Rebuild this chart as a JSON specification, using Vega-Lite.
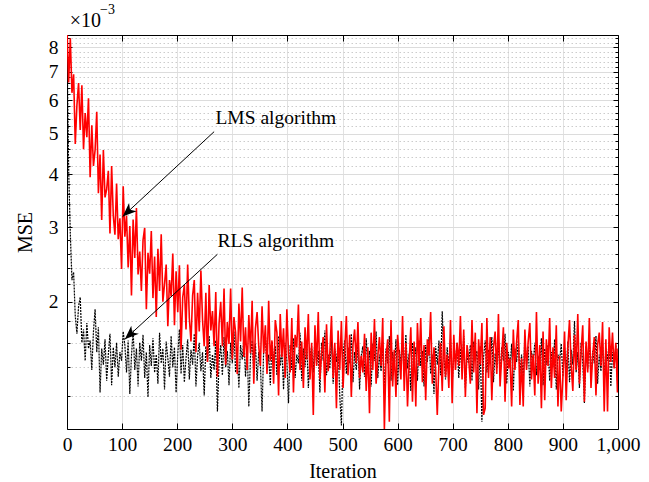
{
"$schema": "https://vega.github.io/schema/vega-lite/v6.json",
"width": 551, "height": 394,
"autosize": {"type": "none"},
"padding": {"left": 67, "top": 35, "right": 31, "bottom": 53},
"datasets": {
"series": [
{"i":0,"lms":8.9,"rls":8.2},{"i":3,"lms":6.6,"rls":4.1},{"i":6,"lms":8.4,"rls":2.9},{"i":9,"lms":6.24,"rls":2.25},{"i":12,"lms":6.9,"rls":2.35},{"i":15,"lms":4.72,"rls":1.85},{"i":18,"lms":5.84,"rls":1.68},{"i":21,"lms":6.58,"rls":1.95},{"i":24,"lms":5.1,"rls":2.05},{"i":27,"lms":6.5,"rls":1.6},
{"i":30,"lms":4.59,"rls":1.72},{"i":33,"lms":5.59,"rls":1.45},{"i":36,"lms":4.9,"rls":1.78},{"i":39,"lms":6.06,"rls":1.55},{"i":42,"lms":3.94,"rls":1.62},{"i":45,"lms":5.23,"rls":1.38},{"i":48,"lms":4.19,"rls":1.7},{"i":51,"lms":4.57,"rls":1.92},{"i":54,"lms":5.63,"rls":1.52},{"i":57,"lms":3.61,"rls":1.74},
{"i":60,"lms":4.46,"rls":1.22},{"i":63,"lms":3.12,"rls":1.55},{"i":66,"lms":4.57,"rls":1.42},{"i":69,"lms":3.53,"rls":1.63},{"i":72,"lms":3.69,"rls":1.3},{"i":75,"lms":4.08,"rls":1.5},{"i":78,"lms":2.9,"rls":1.68},{"i":81,"lms":4.19,"rls":1.27},{"i":84,"lms":3.2,"rls":1.56},{"i":87,"lms":2.88,"rls":1.4},
{"i":90,"lms":3.81,"rls":1.6},{"i":93,"lms":2.81,"rls":1.33},{"i":96,"lms":3.15,"rls":1.52},{"i":99,"lms":2.39,"rls":1.45},{"i":102,"lms":3.75,"rls":1.7},{"i":105,"lms":2.85,"rls":1.58},{"i":108,"lms":3.2,"rls":1.36},{"i":111,"lms":2.41,"rls":1.62},{"i":114,"lms":3.02,"rls":1.21},{"i":117,"lms":2.07,"rls":1.49},
{"i":120,"lms":3.13,"rls":1.71},{"i":123,"lms":2.54,"rls":1.38},{"i":126,"lms":3.33,"rls":1.55},{"i":129,"lms":2.32,"rls":1.26},{"i":132,"lms":2.63,"rls":1.6},{"i":135,"lms":2.12,"rls":1.45},{"i":138,"lms":2.8,"rls":1.67},{"i":141,"lms":2.99,"rls":1.32},{"i":144,"lms":1.92,"rls":1.52},{"i":147,"lms":2.61,"rls":1.19},
{"i":150,"lms":2.33,"rls":1.58},{"i":153,"lms":2.94,"rls":1.41},{"i":156,"lms":2.04,"rls":1.64},{"i":159,"lms":2.56,"rls":1.36},{"i":162,"lms":1.84,"rls":1.5},{"i":165,"lms":2.67,"rls":1.28},{"i":168,"lms":2.12,"rls":1.69},{"i":171,"lms":2.89,"rls":1.43},{"i":174,"lms":2.0,"rls":1.55},{"i":177,"lms":2.2,"rls":1.24},
{"i":180,"lms":2.45,"rls":1.61},{"i":183,"lms":1.75,"rls":1.47},{"i":186,"lms":2.25,"rls":1.33},{"i":189,"lms":2.06,"rls":1.66},{"i":192,"lms":2.6,"rls":1.4},{"i":195,"lms":1.76,"rls":1.56},{"i":198,"lms":2.36,"rls":1.22},{"i":201,"lms":1.89,"rls":1.5},{"i":204,"lms":2.44,"rls":1.72},{"i":207,"lms":1.54,"rls":1.35},
{"i":210,"lms":2.05,"rls":1.58},{"i":213,"lms":2.19,"rls":1.29},{"i":216,"lms":1.72,"rls":1.47},{"i":219,"lms":2.45,"rls":1.63},{"i":222,"lms":1.83,"rls":1.31},{"i":225,"lms":1.61,"rls":1.54},{"i":228,"lms":2.07,"rls":1.42},{"i":231,"lms":2.25,"rls":1.68},{"i":234,"lms":1.52,"rls":1.26},{"i":237,"lms":2.1,"rls":1.49},
{"i":240,"lms":1.7,"rls":1.6},{"i":243,"lms":2.37,"rls":1.37},{"i":246,"lms":1.81,"rls":1.52},{"i":249,"lms":1.57,"rls":1.2},{"i":252,"lms":2.1,"rls":1.57},{"i":255,"lms":1.44,"rls":1.44},{"i":258,"lms":2.19,"rls":1.66},{"i":261,"lms":1.71,"rls":1.32},{"i":264,"lms":1.9,"rls":1.5},{"i":267,"lms":1.57,"rls":1.38},
{"i":270,"lms":2.11,"rls":1.62},{"i":273,"lms":1.33,"rls":1.1},{"i":276,"lms":1.78,"rls":1.45},{"i":279,"lms":2.0,"rls":1.58},{"i":282,"lms":1.57,"rls":1.34},{"i":285,"lms":2.15,"rls":1.65},{"i":288,"lms":1.42,"rls":1.4},{"i":291,"lms":1.79,"rls":1.53},{"i":294,"lms":1.59,"rls":1.27},{"i":297,"lms":2.15,"rls":1.6},
{"i":300,"lms":1.46,"rls":1.43},{"i":303,"lms":1.84,"rls":1.7},{"i":306,"lms":1.69,"rls":1.36},{"i":309,"lms":1.35,"rls":1.51},{"i":312,"lms":1.98,"rls":1.25},{"i":315,"lms":1.61,"rls":1.58},{"i":318,"lms":2.16,"rls":1.46},{"i":321,"lms":1.48,"rls":1.64},{"i":324,"lms":1.74,"rls":1.33},{"i":327,"lms":1.38,"rls":1.55},
{"i":330,"lms":1.86,"rls":1.13},{"i":333,"lms":1.51,"rls":1.48},{"i":336,"lms":2.01,"rls":1.62},{"i":339,"lms":1.28,"rls":1.37},{"i":342,"lms":1.73,"rls":1.59},{"i":345,"lms":1.89,"rls":1.3},{"i":348,"lms":1.57,"rls":1.52},{"i":351,"lms":1.41,"rls":1.42},{"i":354,"lms":1.95,"rls":1.1},{"i":357,"lms":1.51,"rls":1.56},
{"i":360,"lms":1.76,"rls":1.68},{"i":363,"lms":1.35,"rls":1.38},{"i":366,"lms":2.01,"rls":1.5},{"i":369,"lms":1.45,"rls":1.27},{"i":372,"lms":1.62,"rls":1.61},{"i":375,"lms":1.28,"rls":1.44},{"i":378,"lms":1.81,"rls":1.57},{"i":381,"lms":1.69,"rls":1.34},{"i":384,"lms":1.2,"rls":1.66},{"i":387,"lms":1.87,"rls":1.41},
{"i":390,"lms":1.48,"rls":1.53},{"i":393,"lms":1.73,"rls":1.24},{"i":396,"lms":1.32,"rls":1.6},{"i":399,"lms":1.92,"rls":1.45},{"i":402,"lms":1.51,"rls":1.15},{"i":405,"lms":1.36,"rls":1.58},{"i":408,"lms":1.83,"rls":1.38},{"i":411,"lms":1.22,"rls":1.64},{"i":414,"lms":1.67,"rls":1.32},{"i":417,"lms":1.56,"rls":1.5},
{"i":420,"lms":1.97,"rls":1.43},{"i":423,"lms":1.38,"rls":1.69},{"i":426,"lms":1.61,"rls":1.3},{"i":429,"lms":1.25,"rls":1.55},{"i":432,"lms":1.74,"rls":1.4},{"i":435,"lms":1.46,"rls":1.62},{"i":438,"lms":1.87,"rls":1.25},{"i":441,"lms":1.31,"rls":1.48},{"i":444,"lms":1.6,"rls":1.57},{"i":447,"lms":1.08,"rls":1.36},
{"i":450,"lms":1.76,"rls":1.65},{"i":453,"lms":1.41,"rls":1.42},{"i":456,"lms":1.89,"rls":1.53},{"i":459,"lms":1.31,"rls":1.22},{"i":462,"lms":1.51,"rls":1.6},{"i":465,"lms":1.65,"rls":1.45},{"i":468,"lms":1.22,"rls":1.71},{"i":471,"lms":1.77,"rls":1.34},{"i":474,"lms":1.37,"rls":1.5},{"i":477,"lms":1.51,"rls":1.39},
{"i":480,"lms":1.85,"rls":1.63},{"i":483,"lms":1.32,"rls":1.28},{"i":486,"lms":1.6,"rls":1.55},{"i":489,"lms":1.12,"rls":1.44},{"i":492,"lms":1.71,"rls":1.58},{"i":495,"lms":1.38,"rls":1.2},{"i":498,"lms":1.8,"rls":1.02},{"i":501,"lms":1.25,"rls":1.5},{"i":504,"lms":1.54,"rls":1.62},{"i":507,"lms":1.85,"rls":1.35},
{"i":510,"lms":1.34,"rls":1.56},{"i":513,"lms":1.67,"rls":1.43},{"i":516,"lms":1.19,"rls":1.68},{"i":519,"lms":1.58,"rls":1.29},{"i":522,"lms":1.72,"rls":1.52},{"i":525,"lms":1.43,"rls":1.38},{"i":528,"lms":1.79,"rls":1.6},{"i":531,"lms":1.32,"rls":1.24},{"i":534,"lms":1.49,"rls":1.49},{"i":537,"lms":1.36,"rls":1.57},
{"i":540,"lms":1.68,"rls":1.33},{"i":543,"lms":1.23,"rls":1.64},{"i":546,"lms":1.56,"rls":1.41},{"i":549,"lms":1.09,"rls":1.53},{"i":552,"lms":1.69,"rls":1.26},{"i":555,"lms":1.38,"rls":1.59},{"i":558,"lms":1.82,"rls":1.45},{"i":561,"lms":1.28,"rls":1.7},{"i":564,"lms":1.48,"rls":1.32},{"i":567,"lms":1.65,"rls":1.5},
{"i":570,"lms":1.41,"rls":1.37},{"i":573,"lms":1.83,"rls":1.61},{"i":576,"lms":1.0,"rls":1.22},{"i":579,"lms":1.48,"rls":1.55},{"i":582,"lms":1.63,"rls":1.43},{"i":585,"lms":1.04,"rls":1.66},{"i":588,"lms":1.81,"rls":1.3},{"i":591,"lms":1.26,"rls":1.52},{"i":594,"lms":1.54,"rls":1.4},{"i":597,"lms":1.19,"rls":1.63},
{"i":600,"lms":1.67,"rls":1.27},{"i":603,"lms":1.49,"rls":1.54},{"i":606,"lms":1.31,"rls":1.44},{"i":609,"lms":1.85,"rls":1.59},{"i":612,"lms":1.23,"rls":1.33},{"i":615,"lms":1.6,"rls":1.67},{"i":618,"lms":1.13,"rls":1.39},{"i":621,"lms":1.44,"rls":1.51},{"i":624,"lms":1.74,"rls":1.23},{"i":627,"lms":1.16,"rls":1.6},
{"i":630,"lms":1.61,"rls":1.46},{"i":633,"lms":1.13,"rls":1.56},{"i":636,"lms":1.78,"rls":1.3},{"i":639,"lms":1.41,"rls":1.62},{"i":642,"lms":1.83,"rls":1.41},{"i":645,"lms":1.29,"rls":1.53},{"i":648,"lms":1.58,"rls":1.26},{"i":651,"lms":1.17,"rls":1.58},{"i":654,"lms":1.63,"rls":1.44},{"i":657,"lms":1.49,"rls":1.65},
{"i":660,"lms":1.89,"rls":1.35},{"i":663,"lms":1.28,"rls":1.5},{"i":666,"lms":1.56,"rls":1.21},{"i":669,"lms":1.39,"rls":1.57},{"i":672,"lms":1.08,"rls":1.42},{"i":675,"lms":1.44,"rls":1.62},{"i":678,"lms":1.6,"rls":1.34},{"i":681,"lms":1.23,"rls":1.9},{"i":684,"lms":1.75,"rls":1.48},{"i":687,"lms":1.33,"rls":1.31},
{"i":690,"lms":1.5,"rls":1.56},{"i":693,"lms":1.25,"rls":1.4},{"i":696,"lms":1.81,"rls":1.63},{"i":699,"lms":1.15,"rls":1.27},{"i":702,"lms":1.67,"rls":1.52},{"i":705,"lms":1.38,"rls":1.44},{"i":708,"lms":1.6,"rls":1.6},{"i":711,"lms":1.41,"rls":1.32},{"i":714,"lms":1.85,"rls":1.55},{"i":717,"lms":1.31,"rls":1.38},
{"i":720,"lms":1.72,"rls":1.66},{"i":723,"lms":1.19,"rls":1.25},{"i":726,"lms":1.58,"rls":1.5},{"i":729,"lms":1.47,"rls":1.43},{"i":732,"lms":1.28,"rls":1.58},{"i":735,"lms":1.81,"rls":1.3},{"i":738,"lms":1.36,"rls":1.61},{"i":741,"lms":1.69,"rls":1.45},{"i":744,"lms":1.09,"rls":1.53},{"i":747,"lms":1.63,"rls":1.24},
{"i":750,"lms":1.42,"rls":1.57},{"i":753,"lms":1.78,"rls":1.04},{"i":756,"lms":1.08,"rls":1.48},{"i":759,"lms":1.12,"rls":1.62},{"i":762,"lms":1.83,"rls":1.36},{"i":765,"lms":1.32,"rls":1.54},{"i":768,"lms":1.65,"rls":1.42},{"i":771,"lms":1.17,"rls":1.65},{"i":774,"lms":1.56,"rls":1.29},{"i":777,"lms":1.7,"rls":1.51},
{"i":780,"lms":1.35,"rls":1.39},{"i":783,"lms":1.87,"rls":1.6},{"i":786,"lms":1.26,"rls":1.33},{"i":789,"lms":1.49,"rls":1.56},{"i":792,"lms":1.74,"rls":1.45},{"i":795,"lms":1.16,"rls":1.68},{"i":798,"lms":1.6,"rls":1.28},{"i":801,"lms":1.39,"rls":1.52},{"i":804,"lms":1.47,"rls":1.4},{"i":807,"lms":1.13,"rls":1.59},
{"i":810,"lms":1.72,"rls":1.23},{"i":813,"lms":1.38,"rls":1.55},{"i":816,"lms":1.61,"rls":1.44},{"i":819,"lms":1.81,"rls":1.62},{"i":822,"lms":1.14,"rls":1.35},{"i":825,"lms":1.47,"rls":1.5},{"i":828,"lms":1.13,"rls":1.31},{"i":831,"lms":1.72,"rls":1.66},{"i":834,"lms":1.38,"rls":1.41},{"i":837,"lms":1.61,"rls":1.57},
{"i":840,"lms":1.78,"rls":1.26},{"i":843,"lms":1.31,"rls":1.53},{"i":846,"lms":1.5,"rls":1.43},{"i":849,"lms":1.2,"rls":1.6},{"i":852,"lms":1.89,"rls":1.34},{"i":855,"lms":1.28,"rls":1.49},{"i":858,"lms":1.58,"rls":1.38},{"i":861,"lms":1.12,"rls":1.64},{"i":864,"lms":1.7,"rls":1.27},{"i":867,"lms":1.17,"rls":1.55},
{"i":870,"lms":1.63,"rls":1.42},{"i":873,"lms":1.41,"rls":1.58},{"i":876,"lms":1.83,"rls":1.3},{"i":879,"lms":1.25,"rls":1.52},{"i":882,"lms":1.56,"rls":1.4},{"i":885,"lms":1.32,"rls":1.63},{"i":888,"lms":1.76,"rls":1.24},{"i":891,"lms":1.13,"rls":1.5},{"i":894,"lms":1.49,"rls":1.45},{"i":897,"lms":1.1,"rls":1.59},
{"i":900,"lms":1.33,"rls":1.33},{"i":903,"lms":1.7,"rls":1.56},{"i":906,"lms":1.17,"rls":1.38},{"i":909,"lms":1.56,"rls":1.61},{"i":912,"lms":1.81,"rls":1.29},{"i":915,"lms":1.42,"rls":1.54},{"i":918,"lms":1.23,"rls":1.42},{"i":921,"lms":1.67,"rls":1.8},{"i":924,"lms":1.38,"rls":1.36},{"i":927,"lms":1.87,"rls":1.52},
{"i":930,"lms":1.28,"rls":1.25},{"i":933,"lms":1.52,"rls":1.6},{"i":936,"lms":1.76,"rls":1.44},{"i":939,"lms":1.16,"rls":1.15},{"i":942,"lms":1.61,"rls":1.57},{"i":945,"lms":1.36,"rls":1.39},{"i":948,"lms":1.83,"rls":1.62},{"i":951,"lms":1.25,"rls":1.31},{"i":954,"lms":1.49,"rls":1.53},{"i":957,"lms":1.65,"rls":1.43},
{"i":960,"lms":1.2,"rls":1.66},{"i":963,"lms":1.58,"rls":1.28},{"i":966,"lms":1.69,"rls":1.5},{"i":969,"lms":1.41,"rls":1.37},{"i":972,"lms":1.79,"rls":1.59},{"i":975,"lms":1.1,"rls":1.32},{"i":978,"lms":1.63,"rls":1.55},{"i":981,"lms":1.1,"rls":1.45},{"i":984,"lms":1.74,"rls":1.61},{"i":987,"lms":1.44,"rls":1.26},
{"i":990,"lms":1.69,"rls":1.52},{"i":993,"lms":1.39,"rls":1.4},{"i":996,"lms":1.6,"rls":1.58},{"i":999,"lms":1.22,"rls":1.3},{"i":1000,"lms":1.55,"rls":1.42}
],
"notes": [
{"label":"LMS algorithm","tx":379,"ty":5.43,"x0":267,"y0":5.05,"x1":101,"y1":3.18},
{"label":"RLS algorithm","tx":379,"ty":2.78,"x0":273,"y0":2.59,"x1":105,"y1":1.63}
],
"exponent": [
{"label":"×10","x":5,"y":9.25}
],
"exponentSup": [
{"label":"−3","x":60,"y":9.8}
]
},
"layer": [
{
"data": {"name": "series"},
"mark": {"type": "line", "color": "#000000", "strokeWidth": 1.2, "strokeDash": [2, 1], "clip": true},
"encoding": {
"x": {"field": "i", "type": "quantitative", "scale": {"domain": [0, 1000], "nice": false, "zero": false},
"axis": {"orient": "bottom", "title": "Iteration", "values": [0,100,200,300,400,500,600,700,800,900,1000], "format": ",d", "grid": true, "gridColor": "#e2e2e2", "tickSize": -6, "labelPadding": 12, "labelFlush": false, "labelOverlap": false, "titlePadding": 8}},
"y": {"field": "rls", "type": "quantitative", "scale": {"type": "log", "domain": [1, 8.55], "nice": false, "zero": false},
"axis": {"orient": "left", "title": "MSE", "values": [1.2,1.4,1.6,1.8,2,2.2,2.4,2.6,2.8,3,3.2,3.4,3.6,3.8,4,4.2,4.4,4.6,4.8,5,5.2,5.4,5.6,5.8,6,6.2,6.4,6.6,6.8,7,7.2,7.4,7.6,7.8,8,8.2,8.4],
"format": "~g", "labelExpr": "abs(datum.value - round(datum.value)) < 0.001 ? datum.label : ''",
"grid": true,
"gridColor": {"condition": {"test": "abs(datum.value - round(datum.value)) < 0.001", "value": "#dcdcdc"}, "value": "#cccccc"},
"gridDash": {"condition": {"test": "abs(datum.value - round(datum.value)) < 0.001", "value": []}, "value": [1.5, 2.5]},
"tickSize": {"condition": {"test": "abs(datum.value - round(datum.value)) < 0.001", "value": -5}, "value": -3},
"labelPadding": 14, "labelOverlap": false, "titlePadding": 13}}
}
},
{
"data": {"name": "series"},
"mark": {"type": "line", "color": "#ff0000", "strokeWidth": 1.6, "clip": true},
"encoding": {
"x": {"field": "i", "type": "quantitative",
"axis": {"orient": "top", "title": null, "values": [0,100,200,300,400,500,600,700,800,900,1000], "labels": false, "grid": false, "tickSize": -6}},
"y": {"field": "lms", "type": "quantitative",
"axis": {"orient": "right", "title": null, "values": [1.2,1.4,1.6,1.8,2,2.2,2.4,2.6,2.8,3,3.2,3.4,3.6,3.8,4,4.2,4.4,4.6,4.8,5,5.2,5.4,5.6,5.8,6,6.2,6.4,6.6,6.8,7,7.2,7.4,7.6,7.8,8,8.2,8.4],
"labels": false, "grid": false,
"tickSize": {"condition": {"test": "abs(datum.value - round(datum.value)) < 0.001", "value": -5}, "value": -3}}}
}
},
{
"data": {"name": "notes"},
"mark": {"type": "rule", "color": "#000000", "strokeWidth": 1},
"encoding": {
"x": {"field": "x0", "type": "quantitative", "axis": null},
"y": {"field": "y0", "type": "quantitative", "axis": null},
"x2": {"field": "x1"},
"y2": {"field": "y1"}
}
},
{
"data": {"name": "notes"},
"mark": {"type": "point", "shape": "M0,0L0.4,1L0,0.72L-0.4,1Z", "filled": true, "color": "#000000", "opacity": 1, "strokeWidth": 0, "size": 780, "angle": 227},
"encoding": {
"x": {"field": "x1", "type": "quantitative", "axis": null},
"y": {"field": "y1", "type": "quantitative", "axis": null}
}
},
{
"data": {"name": "notes"},
"mark": {"type": "text", "font": "Liberation Serif", "fontSize": 19.5, "color": "#000000", "align": "center", "baseline": "middle"},
"encoding": {
"x": {"field": "tx", "type": "quantitative", "axis": null},
"y": {"field": "ty", "type": "quantitative", "axis": null},
"text": {"field": "label"}
}
},
{
"data": {"name": "exponent"},
"mark": {"type": "text", "font": "Liberation Serif", "fontSize": 20, "color": "#000000", "align": "left", "baseline": "middle"},
"encoding": {
"x": {"field": "x", "type": "quantitative", "axis": null},
"y": {"field": "y", "type": "quantitative", "axis": null},
"text": {"field": "label"}
}
},
{
"data": {"name": "exponentSup"},
"mark": {"type": "text", "font": "Liberation Serif", "fontSize": 14, "color": "#000000", "align": "left", "baseline": "middle"},
"encoding": {
"x": {"field": "x", "type": "quantitative", "axis": null},
"y": {"field": "y", "type": "quantitative", "axis": null},
"text": {"field": "label"}
}
}
],
"resolve": {"axis": {"x": "independent", "y": "independent"}},
"config": {
"view": {"stroke": null},
"axis": {"labelFont": "Liberation Serif", "labelFontSize": 19.5, "labelColor": "#000000", "titleFont": "Liberation Serif", "titleFontSize": 20, "titleFontWeight": "normal", "titleColor": "#000000", "domainColor": "#000000", "domainWidth": 1, "tickColor": "#000000", "tickWidth": 1}
}
}
